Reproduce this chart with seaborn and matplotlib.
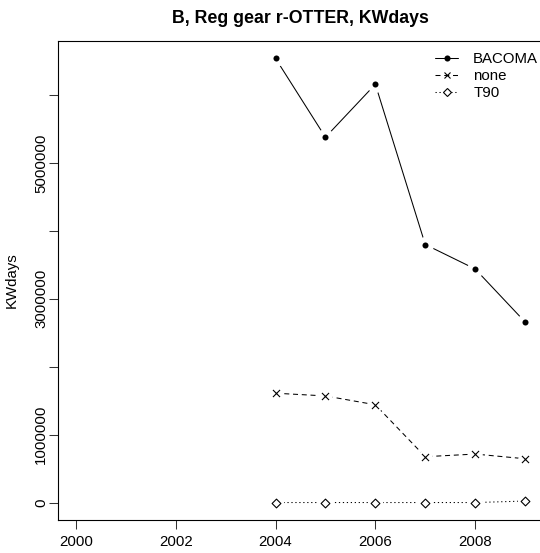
import matplotlib
matplotlib.use("Agg")
import matplotlib.pyplot as plt
from matplotlib.lines import Line2D
import numpy as np
import pandas as pd
import seaborn as sns

# Effort (KWdays) by regulated gear, r-OTTER, area B
years = [2004, 2005, 2006, 2007, 2008, 2009]
bacoma = [6540000, 5380000, 6160000, 3800000, 3440000, 2660000]
none_gear = [1610000, 1570000, 1440000, 675000, 714000, 645000]
t90 = [0, 0, 0, 0, 0, 22000]
gears = ["BACOMA", "none", "T90"]

x_ticks = [2000, 2002, 2004, 2006, 2008]
y_ticks = [0, 1000000, 2000000, 3000000, 4000000, 5000000, 6000000]
y_tick_labels = ["0", "1000000", "", "3000000", "", "5000000", ""]

df = pd.DataFrame({
    "year": years * 3,
    "kwdays": bacoma + none_gear + t90,
    "gear": [g for g in gears for _ in years],
})

sns.set_style("ticks")
plt.rcParams["font.family"] = ["Liberation Sans", "DejaVu Sans"]
plt.rcParams["text.color"] = "black"
plt.rcParams["axes.labelcolor"] = "black"

W, H, DPI = 540, 553, 100
fig = plt.figure(figsize=(W / DPI, H / DPI), dpi=DPI)

# plot region in pixels (right edge runs slightly past the canvas)
left_px, right_px, top_px, bottom_px = 58.0, 543.0, 40.7, 520.3
ax = fig.add_axes([left_px / W, 1 - bottom_px / H,
                   (right_px - left_px) / W, (bottom_px - top_px) / H])

styles = {
    "BACOMA": dict(dashes="", marker="o", s=19, mask=150, face="black", lw_m=0),
    "none": dict(dashes=(4.8, 3.6), marker="x", s=26, mask=110, face="black", lw_m=0.8),
    "T90": dict(dashes=(1.2, 2.6), marker="D", s=20, mask=120, face="white", lw_m=0.8),
}

for g in gears:
    sub = df[df["gear"] == g]
    st = styles[g]
    line_kw = {} if st["dashes"] == "" else {"dashes": st["dashes"]}
    sns.lineplot(data=sub, x="year", y="kwdays", color="black", linewidth=0.75,
                 ax=ax, legend=False, zorder=2, **line_kw)
    # white halo so the connecting lines stop short of each point
    sns.scatterplot(data=sub, x="year", y="kwdays", color="white", s=st["mask"],
                    marker="o", linewidth=0, ax=ax, legend=False, zorder=3)
    if st["marker"] == "x":
        sns.scatterplot(data=sub, x="year", y="kwdays", color="black", s=st["s"],
                        marker="x", linewidth=st["lw_m"], ax=ax, legend=False, zorder=4)
    else:
        sns.scatterplot(data=sub, x="year", y="kwdays", facecolor=st["face"],
                        edgecolor="black", s=st["s"], marker=st["marker"],
                        linewidth=st["lw_m"], ax=ax, legend=False, zorder=4)

# axis ranges padded 4% like a base-graphics plot
xmin, xmax = 2000, 2009
ymin, ymax = 0, max(bacoma)
xpad = (xmax - xmin) * 0.04
ypad = (ymax - ymin) * 0.04
ax.set_xlim(xmin - xpad, xmax + xpad)
ax.set_ylim(ymin - ypad, ymax + ypad)

ax.set_xticks(x_ticks)
ax.set_xticklabels([str(v) for v in x_ticks])
ax.set_yticks(y_ticks)
ax.set_yticklabels(y_tick_labels, rotation=90, va="center", ha="right")

ax.tick_params(axis="both", direction="out", length=6.2, width=0.75,
               color="#333333", labelsize=10.8, labelcolor="black")
ax.tick_params(axis="x", pad=4.5)
ax.tick_params(axis="y", pad=0.8)

for sp in ax.spines.values():
    sp.set_visible(True)
    sp.set_linewidth(0.8)
    sp.set_color("black")

ax.set_xlabel("")
ax.set_ylabel("KWdays", fontsize=10.8, color="black")
ax.yaxis.set_label_coords((19 - left_px) / (right_px - left_px), 0.5)

ax.set_title("B, Reg gear r-OTTER, KWdays", fontsize=12.8, fontweight="bold",
             pad=13, color="black")

handles = [
    Line2D([], [], color="black", lw=0.75, marker="o", markersize=4.4,
           markerfacecolor="black", markeredgewidth=0),
    Line2D([], [], color="black", lw=0.75, ls=(0, (4.8, 3.6)), marker="x",
           markersize=5.0, markeredgewidth=0.8),
    Line2D([], [], color="black", lw=0.75, ls=(0, (1.2, 2.6)), marker="D",
           markersize=4.4, markerfacecolor="white", markeredgewidth=0.8),
]
ax.legend(handles, gears, loc="upper left",
          bbox_to_anchor=((435 - left_px) / (right_px - left_px),
                          (bottom_px - 52.0) / (bottom_px - top_px)),
          frameon=False, fontsize=10.8, handlelength=1.55, handletextpad=1.0,
          labelspacing=0.2, borderpad=0, borderaxespad=0)

fig.savefig("out.png", dpi=DPI)
